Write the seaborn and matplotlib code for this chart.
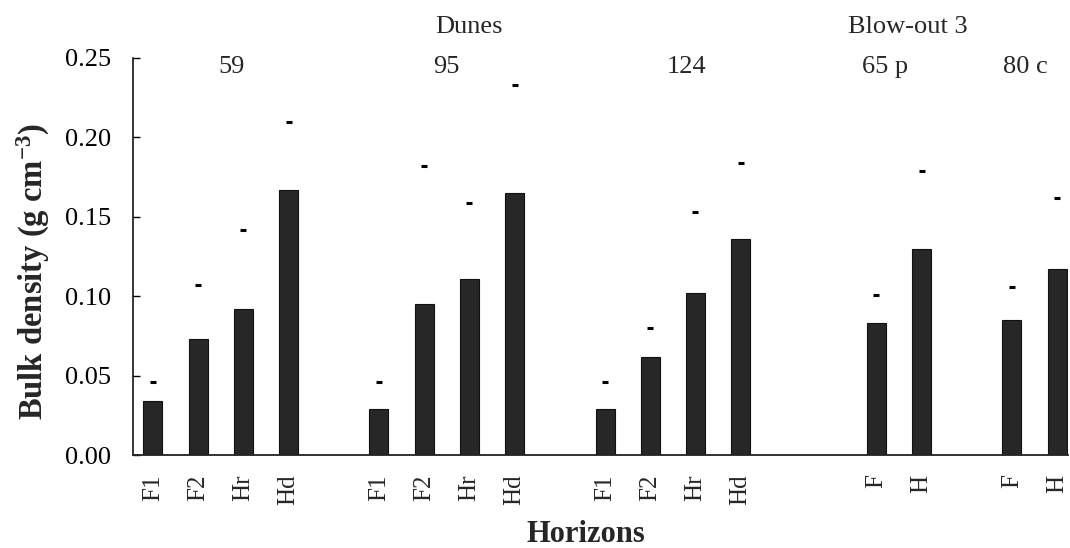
import numpy as np
import pandas as pd
import matplotlib
matplotlib.use("Agg")
import matplotlib.pyplot as plt
import seaborn as sns

# ---- data ----
sites = ["59", "95", "124", "65 p", "80 c"]
site_groups = ["Dunes", "Dunes", "Dunes", "Blow-out 3", "Blow-out 3"]
horizons_dunes = ["F1", "F2", "Hr", "Hd"]
horizons_blow = ["F", "H"]
dens_59 = [0.034, 0.073, 0.092, 0.167]
dens_95 = [0.029, 0.095, 0.111, 0.165]
dens_124 = [0.029, 0.062, 0.102, 0.136]
dens_65p = [0.083, 0.130]
dens_80c = [0.085, 0.117]
upper_59 = [0.046, 0.107, 0.142, 0.210]
upper_95 = [0.046, 0.182, 0.159, 0.233]
upper_124 = [0.046, 0.080, 0.153, 0.184]
upper_65p = [0.101, 0.179]
upper_80c = [0.106, 0.162]
yticks = [0.00, 0.05, 0.10, 0.15, 0.20, 0.25]

horizons = [horizons_dunes, horizons_dunes, horizons_dunes, horizons_blow, horizons_blow]
density = [dens_59, dens_95, dens_124, dens_65p, dens_80c]
upper = [upper_59, upper_95, upper_124, upper_65p, upper_80c]
gaps_after = [1, 1, 2, 1]          # empty category slots between site groups
label_shift = [0.25, 0.0, 0.3, -0.3, -0.2]

rows, order, tick_labels, group_slots = [], [], [], []
for i, s in enumerate(sites):
    idx = []
    for h, d, u in zip(horizons[i], density[i], upper[i]):
        key = f"{s}|{h}"
        idx.append(len(order))
        order.append(key)
        tick_labels.append(h)
        rows.append(dict(slot=key, site=s, horizon=h, density=d, upper=u))
    group_slots.append(idx)
    if i < len(gaps_after):
        for k in range(gaps_after[i]):
            order.append(f"gap{i}_{k}")
            tick_labels.append("")
df = pd.DataFrame(rows)

# ---- style ----
sns.set_style("white")
plt.rcParams["font.family"] = ["Liberation Serif", "DejaVu Serif"]
plt.rcParams["mathtext.fontset"] = "custom"
plt.rcParams["mathtext.rm"] = "Liberation Serif"
plt.rcParams["mathtext.bf"] = "Liberation Serif:bold"
plt.rcParams["mathtext.it"] = "Liberation Serif:italic"

fig = plt.figure(figsize=(10.7, 5.48), dpi=100)
ax = fig.add_axes([133 / 1070, 1 - 455 / 548, 935 / 1070, 397 / 548])

sns.barplot(data=df, x="slot", y="density", order=order, color="#272727",
            saturation=1, width=0.42, edgecolor="#111111", linewidth=0.8,
            errorbar=None, ax=ax)
sns.pointplot(data=df, x="slot", y="upper", order=order, color="black",
              linestyle="none", marker="_", markersize=5, markeredgewidth=2.2,
              errorbar=None, ax=ax)

ax.set_xlim(-0.44, 20.24)
ax.set_ylim(0, 0.25)
ax.set_yticks(yticks, labels=[f"{v:.2f}" for v in yticks])
ax.set_xticks(range(len(order)), labels=tick_labels, rotation=90, va="top")
ax.tick_params(axis="y", direction="in", length=5, width=1, pad=16,
               labelsize=19, left=True, colors="black")
ax.tick_params(axis="x", length=0, pad=14, labelsize=18)

for side in ["top", "right"]:
    ax.spines[side].set_visible(False)
ax.spines["left"].set_color("black")
ax.spines["left"].set_linewidth(1.1)
ax.spines["bottom"].set_color("#222222")
ax.spines["bottom"].set_linewidth(1.3)

ax.set_ylabel("Bulk density (g cm$^{\\mathbf{-3}}$)", fontsize=23.5, fontweight="bold")
ax.yaxis.set_label_coords(-0.087, 0.463)
ax.set_xlabel("Horizons", fontsize=22, fontweight="bold")
ax.xaxis.set_label_coords(0.484, -0.163)

# site labels
for i, s in enumerate(sites):
    xc = np.mean(group_slots[i]) + label_shift[i]
    ax.text(xc, 0.2405, s, ha="center", va="baseline", fontsize=19, clip_on=False)
# site-group headers
ax.text(np.mean(group_slots[1]) + 0.5, 0.2655, "Dunes", ha="center", va="baseline",
        fontsize=19, clip_on=False)
ax.text(np.mean(group_slots[3]) + 0.2, 0.2655, "Blow-out 3", ha="center",
        va="baseline", fontsize=19, clip_on=False)

fig.savefig("out.png", dpi=100)
